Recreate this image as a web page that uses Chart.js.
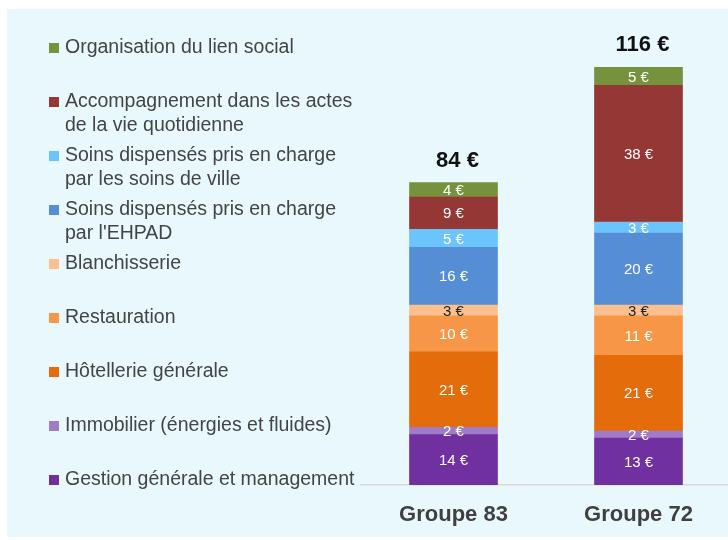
<!DOCTYPE html>
<html>
<head>
<meta charset="utf-8">
<script src="https://cdn.jsdelivr.net/npm/chart.js@4.4.1/dist/chart.umd.min.js"></script>
<style>
  html, body { margin: 0; padding: 0; background: #fff; overflow: hidden; }
  #wrap { width: 731px; height: 540px; position: relative; }
</style>
</head>
<body>
<div id="wrap"><canvas id="ch_cost"></canvas></div>
<script>
// Categories
const groups = ['Groupe 83', 'Groupe 72'];

// Series, from bottom of the stack to the top
const gestion        = [14, 13];
const immobilier     = [2, 2];
const hotellerie     = [21, 21];
const restauration   = [10, 11];
const blanchisserie  = [3, 3];
const soinsEhpad     = [16, 20];
const soinsVille     = [5, 3];
const accompagnement = [9, 38];
const lienSocial     = [4, 5];

// Legend labels (lines), same order as the stack
const legendLines = [
  ['Gestion générale et management'],
  ['Immobilier (énergies et fluides)'],
  ['Hôtellerie générale'],
  ['Restauration'],
  ['Blanchisserie'],
  ['Soins dispensés pris en charge', "par l'EHPAD"],
  ['Soins dispensés pris en charge', 'par les soins de ville'],
  ['Accompagnement dans les actes', 'de la vie quotidienne'],
  ['Organisation du lien social']
];

const seriesData = [gestion, immobilier, hotellerie, restauration, blanchisserie,
  soinsEhpad, soinsVille, accompagnement, lienSocial];
const colors = ['#7030a0', '#a07bc9', '#e46c0a', '#f79646', '#fac08f',
  '#558ed5', '#6cc4fc', '#953735', '#76923c'];
const labelColors = ['#fff', '#fff', '#fff', '#fff', '#222', '#fff', '#fff', '#fff', '#fff'];

const FONT = '"Liberation Sans", Arial, sans-serif';

/* ── panel background ─────────────────────────── */
const panelBg = {
  id: 'panelBg',
  beforeDraw(chart) {
    const { ctx, width, height } = chart;
    ctx.save();
    ctx.fillStyle = '#ffffff';
    ctx.fillRect(0, 0, width, height);
    ctx.fillStyle = '#e8f8fd';
    ctx.fillRect(7, 9, width - 7, height - 12);
    ctx.restore();
  }
};

/* ── values inside segments + totals on top ───── */
const barLabels = {
  id: 'barLabels',
  afterDatasetsDraw(chart) {
    const { ctx } = chart;
    ctx.save();
    ctx.textAlign = 'center';
    ctx.textBaseline = 'middle';
    ctx.font = '15px ' + FONT;
    chart.data.datasets.forEach((ds, i) => {
      const meta = chart.getDatasetMeta(i);
      meta.data.forEach((bar, j) => {
        ctx.fillStyle = labelColors[i];
        ctx.fillText(ds.data[j] + ' €', bar.x, (bar.y + bar.base) / 2 + 1);
      });
    });
    // totals
    const yScale = chart.scales.y;
    const topMeta = chart.getDatasetMeta(chart.data.datasets.length - 1);
    ctx.font = 'bold 22px ' + FONT;
    ctx.fillStyle = '#111';
    groups.forEach((g, j) => {
      const total = seriesData.reduce((s, arr) => s + arr[j], 0);
      const x = topMeta.data[j].x + 4;
      ctx.fillText(total + ' €', x, yScale.getPixelForValue(total) - 22);
    });
    ctx.restore();
  }
};

/* ── legend on the left ───────────────────────── */
const sideLegend = {
  id: 'sideLegend',
  afterDraw(chart) {
    const { ctx } = chart;
    ctx.save();
    ctx.textAlign = 'left';
    ctx.textBaseline = 'middle';
    ctx.font = '19.5px ' + FONT;
    const n = chart.data.datasets.length;
    for (let k = 0; k < n; k++) {
      const i = n - 1 - k;
      const y = 48 + k * 54;
      ctx.fillStyle = colors[i];
      ctx.fillRect(49, y - 5, 10, 10);
      ctx.fillStyle = '#444';
      legendLines[i].forEach((line, l) => ctx.fillText(line, 65, y + l * 24));
    }
    ctx.restore();
  }
};

new Chart(document.getElementById('ch_cost').getContext('2d'), {
  type: 'bar',
  data: {
    labels: groups,
    datasets: seriesData.map((arr, i) => ({
      label: legendLines[i].join(' '),
      data: arr,
      backgroundColor: colors[i],
      borderWidth: 0,
      barThickness: 88
    }))
  },
  options: {
    responsive: true,
    maintainAspectRatio: false,
    animation: false,
    layout: { padding: { left: 361, right: 0, top: 53, bottom: 0 } },
    plugins: { legend: { display: false }, tooltip: { enabled: false } },
    scales: {
      x: {
        stacked: true,
        grid: { color: 'transparent', drawTicks: false },
        border: { display: true, color: '#d9d9d9', width: 1.5 },
        ticks: { padding: 17, color: '#404040', font: { family: FONT, size: 22, weight: 'bold', lineHeight: 1.2 } },
        afterFit(scale) { scale.height = 55; }
      },
      y: { stacked: true, display: false, min: 0, max: 120 }
    }
  },
  plugins: [panelBg, barLabels, sideLegend]
});
</script>
</body>
</html>
